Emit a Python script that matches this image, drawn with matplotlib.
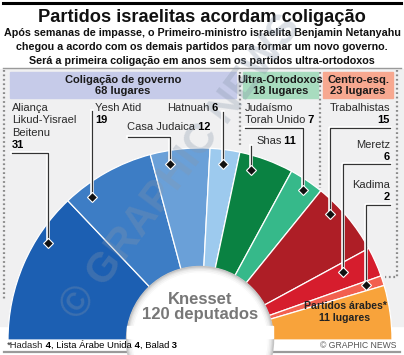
import numpy as np
import matplotlib.pyplot as plt
from matplotlib import font_manager
from matplotlib.patches import Rectangle, Circle
import matplotlib.patheffects as pe

# dados
parties = ["Aliança\nLikud-Yisrael\nBeitenu", "Yesh Atid", "Casa Judaica", "Hatnuah",
           "Shas", "Judaísmo\nTorah Unido", "Trabalhistas", "Meretz", "Kadima",
           "Partidos árabes*"]
seats = [31, 19, 12, 6, 11, 7, 15, 6, 2, 11]
colors = ["#1c5fb2", "#3d7dc5", "#6aa0d8", "#9dcaee", "#0a8242", "#36b98a",
          "#ae1e26", "#d61d2d", "#f2604f", "#f8a33b"]
blocs = ["Coligação de governo", "Ultra-Ortodoxos", "Centro-esq."]
bloc_start = [0, 4, 6, 9]
bloc_colors = ["#c6cbe9", "#a8dcbf", "#f7a890"]
arab_parts = ["Hadash", "Lista Árabe Unida", "Balad"]
arab_seats = [4, 4, 3]

names = {f.name for f in font_manager.fontManager.ttflist}
SANS = 'Liberation Sans'
if 'Liberation Sans Narrow' in names:
    NARROW, k = 'Liberation Sans Narrow', 1.0
else:
    NARROW, k = 'Liberation Sans', 0.82
TXT = '#2a2a2a'

W, H = 404, 355
fig = plt.figure(figsize=(W / 100, H / 100), dpi=100)
ax = fig.add_axes([0, 0, 1, 1])

CX, CY, R, R_IN, BASE = 200, 340, 192, 73, 326

# fundo do painel
ax.add_patch(Rectangle((0, 69), W, BASE - 69, color='#f0f0f1', zorder=0))

# semicirculo (pie com metade invisivel)
wedges, _ = ax.pie(seats + [sum(seats)], radius=R, center=(CX, CY), startangle=180,
                   counterclock=True, colors=colors + ['none'],
                   wedgeprops=dict(width=R - R_IN, edgecolor='white', linewidth=0.9))
wedges[-1].set_visible(False)
clip = Rectangle((0, 0), W, BASE, transform=ax.transData)
for w in wedges:
    w.set_clip_path(clip)
    w.set_zorder(2)

ax.set_xlim(0, W)
ax.set_ylim(H, 0)
ax.set_aspect('auto')
ax.axis('off')

# disco branco central com sombra
for r, c in [(R_IN + 0.5, '#c4c4c4'), (R_IN - 1, '#d6d6d6'), (R_IN - 2, '#e4e4e4'),
             (R_IN - 3, '#efefef'), (R_IN - 4.5, '#f8f8f8'), (R_IN - 6, 'white')]:
    cp = Circle((CX, CY), r, color=c, zorder=3)
    cp.set_clip_path(clip)
    ax.add_patch(cp)
ax.add_patch(Rectangle((CX - R_IN, BASE), 2 * R_IN, 12, color='white', zorder=3))

# sombra por baixo
xo = np.sqrt(R ** 2 - (CY - BASE) ** 2)
xi = np.sqrt(R_IN ** 2 - (CY - BASE) ** 2)
for i, c in enumerate(['#a9a9a9', '#c3c3c3', '#dadada', '#ebebeb']):
    for x0, x1 in [(CX - xo, CX - xi), (CX + xi, CX + xo)]:
        ax.add_patch(Rectangle((x0, BASE + 1.6 * i), x1 - x0, 1.6, color=c, lw=0, zorder=1))

# linhas de enquadramento
ax.plot([3, 401], [3, 3], color='black', lw=2.2)
ax.plot([3, 401], [68, 68], color='#9a9a9a', lw=1.0)
ax.plot([4, 400], [352, 352], color='#9a9a9a', lw=1.6)
dot = dict(color='#8a8a8a', lw=1.6, ls=(0, (0.8, 1.2)), zorder=1)
ax.plot([4, 4], [70, 300], **dot)
ax.plot([240, 240], [72, 146], **dot)
ax.plot([320, 320], [72, 188], **dot)
ax.plot([397, 397, 385], [70, 277, 277], **dot)

# titulo
ax.text(W / 2, 18, "Partidos israelitas acordam coligação", ha='center', va='center',
        fontsize=16 * k, fontweight='bold', family=NARROW, color='#111')
sub = ["Após semanas de impasse, o Primeiro-ministro israelita Benjamin Netanyahu",
       "chegou a acordo com os demais partidos para formar um novo governo.",
       "Será a primeira coligação em anos sem os partidos ultra-ortodoxos"]
for i, s in enumerate(sub):
    ax.text(W / 2, 33 + 14 * i, s, ha='center', va='center', fontsize=9.4 * k,
            fontweight='bold', family=NARROW, color='#111')

# caixas dos blocos
box_x = [(10, 236), (243, 318), (323, 393)]
for b, (x0, x1), c, i0, i1 in zip(blocs, box_x, bloc_colors, bloc_start[:-1], bloc_start[1:]):
    ax.add_patch(Rectangle((x0, 72), x1 - x0, 26, color=c, zorder=1))
    ax.text((x0 + x1) / 2, 80, b, ha='center', va='center', fontsize=8,
            fontweight='bold', family=SANS, color='#1a1a1a')
    ax.text((x0 + x1) / 2, 91, f"{sum(seats[i0:i1])} lugares", ha='center', va='center',
            fontsize=8, fontweight='bold', family=SANS, color='#1a1a1a')


def label_line(x, y, parts, ha='left', size=8, color=TXT):
    t = ax.text(x, y, parts[0][0], ha=ha, va='center', fontsize=size,
                fontweight=parts[0][1], family=SANS, color=color, zorder=6)
    for s, wgt in parts[1:]:
        t = ax.annotate(s, xy=(1, 0), xycoords=t, ha='left', va='bottom', fontsize=size,
                        fontweight=wgt, family=SANS, color='black', zorder=6)
    return t


# rotulos: x, y, alinhamento, numero na mesma linha?
label_pos = [(12, 108, 'left', False), (95, 108, 'left', False), (127, 127, 'left', True),
             (167, 108, 'left', True), (256, 141, 'left', True), (245, 108, 'left', True),
             (390, 108, 'right', False), (390, 145, 'right', False),
             (390, 185, 'right', False)]
STEP = 12.4
for name, n, (x, y, ha, inline) in zip(parties, seats, label_pos):
    lines = name.split('\n')
    for i, ln in enumerate(lines):
        if inline and i == len(lines) - 1:
            label_line(x, y + i * STEP, [(ln, 'normal'), (f" {n}", 'bold')], ha=ha)
        else:
            label_line(x, y + i * STEP, [(ln, 'normal')], ha=ha)
    if not inline:
        ax.text(x, y + len(lines) * STEP, str(n), ha=ha, va='center', fontsize=8,
                fontweight='bold', family=SANS, color='black', zorder=6)

leaders = [[(12, 153), (48, 153), (48, 243)],
           [(92, 111), (92, 197)],
           [(128, 137), (170, 137), (170, 164)],
           [(223, 112), (223, 164)],
           [(251, 146), (251, 170)],
           [(245, 128), (303, 128), (303, 190)],
           [(390, 128), (330, 128), (330, 214)],
           [(390, 164), (343, 164), (343, 272)],
           [(390, 205), (366, 205), (366, 285)]]
halo = [pe.withStroke(linewidth=2.6, foreground='white')]
for pts in leaders:
    xs, ys = zip(*pts)
    ax.plot(xs, ys, color='#333', lw=0.9, zorder=5, path_effects=halo)
    ax.plot(xs[-1], ys[-1], marker='D', ms=5, color='#111', mec='white', mew=0.8, zorder=5)

# partidos arabes
ax.text(345, 306, parties[-1], ha='center', va='center', fontsize=7.6, fontweight='bold',
        family=SANS, color='#222', zorder=6)
ax.text(345, 318, f"{seats[-1]} lugares", ha='center', va='center', fontsize=7.6,
        fontweight='bold', family=SANS, color='#222', zorder=6)

# centro
ax.text(CX, 299, "Knesset", ha='center', va='center', fontsize=12, fontweight='bold',
        family=SANS, color='#777777', zorder=6)
ax.text(CX, 315, f"{sum(seats)} deputados", ha='center', va='center', fontsize=12,
        fontweight='bold', family=SANS, color='#777777', zorder=6)

# marca d'agua
ax.text(182, 168, "© GRAPHIC NEWS", rotation=53, ha='center', va='center',
        rotation_mode='anchor', fontsize=30, fontweight='bold', family=SANS,
        color='#8796aa', alpha=0.3, zorder=4)

# nota de rodape
parts = []
for i, (p, s) in enumerate(zip(arab_parts, arab_seats)):
    parts.append((("*" if i == 0 else ", ") + p, 'normal'))
    parts.append((f" {s}", 'bold'))
label_line(7, 345, parts, size=6.8, color='#222')
ax.text(397, 345, "© GRAPHIC NEWS", ha='right', va='center', fontsize=6.2,
        family=SANS, color='#555')

fig.savefig('out.png', dpi=100)
